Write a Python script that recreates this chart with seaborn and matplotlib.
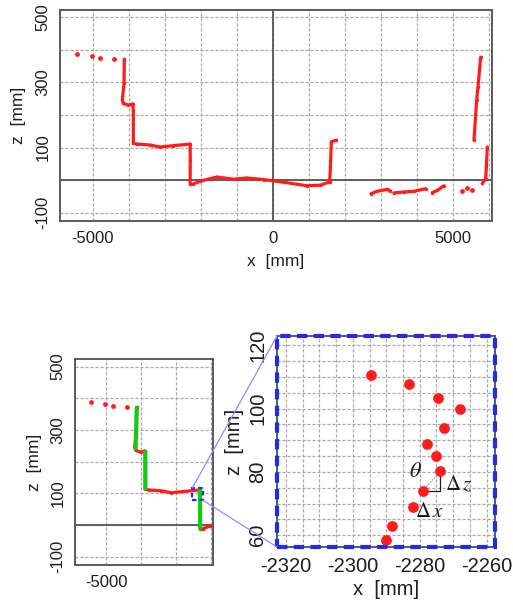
import numpy as np
import pandas as pd
import matplotlib
matplotlib.use("Agg")
import matplotlib.pyplot as plt
import seaborn as sns
from matplotlib.patches import Rectangle, ConnectionPatch

sns.set_style("white")
plt.rcParams['font.family'] = ['Liberation Sans', 'DejaVu Sans']
plt.rcParams['mathtext.fontset'] = 'stix'

# ---------------- data ----------------
sparse_x = [-5436, -5037, -4805, -4406]
sparse_z = [387, 381, 376, 373]

profile_x = [-4128, -4137, -4184, -4156, -4017, -3896, -3878, -3878, -3785, -3414,
             -3135, -2764, -2300, -2296, -2300, -2226, -2022, -1558, -1095, -723,
             -260, 297, 946, 1317, 1577, 1596, 1623, 1763]
profile_z = [371, 297, 246, 236, 230, 234, 215, 113, 111, 108,
             102, 106, 111, 61, -12, -12, -3, 10, 3, 7,
             2, -6, -17, -15, -5, 41, 118, 123]

road1_x = [2727, 2894, 3172, 3265]
road1_z = [-41, -34, -28, -33]
road2_x = [3358, 3636, 3915, 4239]
road2_z = [-39, -36, -34, -26]
road3_x = [4425, 4564, 4750]
road3_z = [-38, -31, -17]
dots_x = [5260, 5380, 5538]
dots_z = [-34, -24, -31]

wall1_x = [5584, 5659, 5696, 5770]
wall1_z = [123, 246, 287, 377]
wall2_x = [5816, 5909, 5928, 5955]
wall2_z = [-10, 5, 41, 102]

green_segments = [
    ([-4125, -4160], [370, 242]),
    ([-3880, -3878], [232, 114]),
    ([-2306, -2300], [113, -10]),
]

zoom_x = [-2294.7, -2283.2, -2274.5, -2267.9, -2272.7, -2277.9, -2275.1,
          -2273.9, -2279.1, -2282.0, -2288.2, -2290.0]
zoom_z = [110.7, 107.7, 103.4, 100.0, 93.9, 88.9, 85.1,
          80.2, 74.0, 68.9, 62.9, 58.4]

top_xticks = [-5000, 0, 5000]
top_yticks = [-100, 0, 100, 200, 300, 400, 500]
top_ylabels = ['-100', '', '100', '', '300', '', '500']
bl_xticks = [-5000]
zoom_xticks = [-2320, -2310, -2300, -2290, -2280, -2270, -2260]
zoom_xlabels = ['-2320', '', '-2300', '', '-2280', '', '-2260']
zoom_yticks = [60, 70, 80, 90, 100, 110, 120]
zoom_ylabels = ['60', '', '80', '', '100', '', '120']

RED = '#ff1c1c'
GREEN = '#11cc11'
BLUE = '#1f2cf0'
GRID = '#a8a8a8'
SPINE = '#5a5a5a'
TXT = '#1e1e1e'

W, H = 513, 608
fig = plt.figure(figsize=(W / 100, H / 100), dpi=100)


def add_ax(l, t, r, b):
    return fig.add_axes([l / W, 1 - b / H, (r - l) / W, (b - t) / H])


def style(ax, fs):
    for s in ax.spines.values():
        s.set_color(SPINE)
        s.set_linewidth(1.4)
        s.set_visible(True)
    ax.tick_params(axis='both', direction='out', length=4, width=1,
                   color=SPINE, labelsize=fs, pad=3, labelcolor=TXT)
    ax.set_facecolor('white')


def grid(ax, xs, ys):
    for x in xs:
        ax.axvline(x, color=GRID, lw=0.9, ls=(0, (2.5, 1.5)), zorder=0)
    for y in ys:
        ax.axhline(y, color=GRID, lw=0.9, ls=(0, (2.5, 1.5)), zorder=0)


def draw_profile(ax):
    kw = dict(color=RED, sort=False, estimator=None, lw=2.3, marker='o',
              markersize=2.5, markeredgewidth=0, ax=ax, legend=False)
    sns.lineplot(x=profile_x, y=profile_z, **kw)
    for xs, zs in [(road1_x, road1_z), (road2_x, road2_z), (road3_x, road3_z),
                   (wall1_x, wall1_z), (wall2_x, wall2_z)]:
        sns.lineplot(x=xs, y=zs, **kw)
    sns.scatterplot(x=sparse_x + dots_x, y=sparse_z + dots_z, color=RED, s=12,
                    linewidth=0, ax=ax, legend=False)


# ---------------- top panel ----------------
ax1 = add_ax(60, 10, 492, 221)
style(ax1, 12)
grid(ax1, range(-5000, 6001, 1000), range(-100, 501, 100))
ax1.axvline(0, color='#555555', lw=1.3, zorder=1)
ax1.axhline(0, color='#555555', lw=1.3, zorder=1)
draw_profile(ax1)
ax1.set_xlim(-5915, 6085)
ax1.set_ylim(-125, 522)
ax1.set_xticks(top_xticks)
ax1.set_xticklabels([str(v) for v in top_xticks])
ax1.set_yticks(top_yticks)
ax1.set_yticklabels(top_ylabels, rotation=90, va='center')
ax1.set_xlabel('x  [mm]', fontsize=12.5, labelpad=6, color=TXT)
ax1.set_ylabel('z  [mm]', fontsize=12.5, labelpad=7, color=TXT)

# ---------------- bottom-left panel ----------------
ax2 = add_ax(75, 359, 213, 565)
style(ax2, 12)
grid(ax2, range(-5000, -1999, 1000), range(-100, 501, 100))
ax2.axhline(0, color='#555555', lw=1.3, zorder=1)
draw_profile(ax2)
for gx, gz in green_segments:
    sns.lineplot(x=gx, y=gz, color=GREEN, lw=3, sort=False, estimator=None,
                 ax=ax2, legend=False, zorder=4)
ax2.add_patch(Rectangle((-2526, 78), 306, 39, fill=False, ec=BLUE, lw=1.6,
                        ls=(0, (2, 1.5)), zorder=5))
ax2.set_xlim(-5905, -1930)
ax2.set_ylim(-126, 524)
ax2.set_xticks(bl_xticks)
ax2.set_xticklabels([str(v) for v in bl_xticks])
ax2.set_yticks(top_yticks)
ax2.set_yticklabels(top_ylabels, rotation=90, va='center')
ax2.set_xlabel('')
ax2.set_ylabel('z  [mm]', fontsize=12.5, labelpad=6, color=TXT)

# ---------------- zoom panel ----------------
ax3 = add_ax(277, 336, 495, 547)
style(ax3, 14.5)
grid(ax3, np.arange(-2320, -2259, 5), np.arange(60, 121, 5))
sns.scatterplot(x=zoom_x, y=zoom_z, color=RED, s=60, linewidth=0, ax=ax3,
                legend=False, zorder=3)
ax3.set_xlim(-2322.7, -2257.5)
ax3.set_ylim(56.3, 122.9)
ax3.set_xticks(zoom_xticks)
ax3.set_xticklabels(zoom_xlabels)
ax3.set_yticks(zoom_yticks)
ax3.set_yticklabels(zoom_ylabels, rotation=90, va='center')
ax3.set_xlabel('x  [mm]', fontsize=14.5, labelpad=3, color=TXT)
ax3.set_ylabel('z  [mm]', fontsize=14.5, labelpad=3, color=TXT)
ax3.add_patch(Rectangle((0, 0), 1, 1, transform=ax3.transAxes, fill=False,
                        ec=BLUE, lw=3, ls=(0, (2.5, 1.5)), clip_on=False, zorder=6))

# theta annotation
ax3.plot([zoom_x[7], zoom_x[7]], [zoom_z[7], zoom_z[8]], color=TXT, lw=0.9, zorder=2)
ax3.plot([zoom_x[8], zoom_x[7]], [zoom_z[8], zoom_z[8]], color=TXT, lw=0.9, zorder=2)
ax3.plot([zoom_x[8], zoom_x[7]], [zoom_z[8], zoom_z[7]], color='#999999', lw=0.8,
         ls=(0, (1.5, 1)), zorder=2)
ax3.text(-2281.2, 80.1, r'$\theta$', fontsize=16, ha='center', va='center', color=TXT)
ax3.text(-2268.2, 76.3, r'$\Delta\,z$', fontsize=15, ha='center', va='center', color=TXT)
ax3.text(-2277.2, 67.6, r'$\Delta\,x$', fontsize=15, ha='center', va='center', color=TXT)

# connection lines
for xyA, xyB in [((-2526, 117), (0, 1)), ((-2220, 78), (0, 0))]:
    con = ConnectionPatch(xyA=xyA, coordsA=ax2.transData, xyB=xyB,
                          coordsB=ax3.transAxes, color='#8c8cff', lw=0.9)
    fig.add_artist(con)

fig.savefig('out.png', dpi=100)
